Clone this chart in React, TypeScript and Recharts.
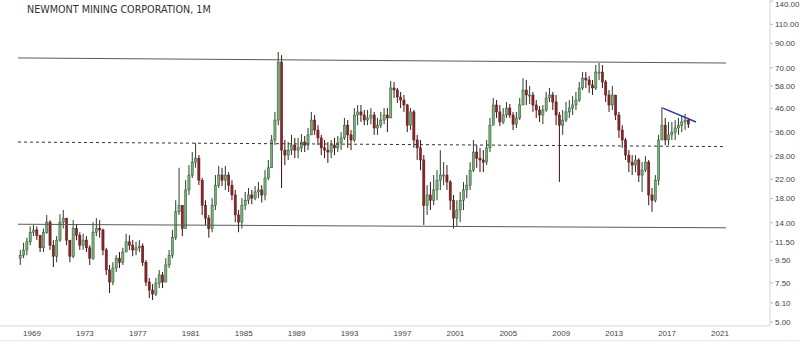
import { Bar, ComposedChart, ReferenceLine, XAxis, YAxis } from "recharts";

const START_YEAR = 1968;
const FIRST_OPEN = 9.7;

// quarterly candles, one row per year
const closes = [
  10.0, 10.56, 11.5, 12.7, 13.0, 12.3, 10.8, 12.7, 14.1, 11.1, 9.9, 11.7,
  14.1, 14.7, 11.7, 9.9, 13.2, 12.3, 11.1, 11.7, 10.8, 9.7, 12.7, 13.2,
  13.0, 10.56, 8.58, 7.57, 8.76, 9.7, 9.3, 10.34, 11.5, 11.1, 10.56, 10.8,
  11.0, 9.3, 7.57, 6.97, 6.68, 7.49, 8.15, 7.57, 9.04, 10.0, 12.0, 15.7,
  16.8, 13.2, 19.7, 23.0, 26.3, 27.4, 21.8, 16.8, 14.7, 13.2, 16.8, 20.7,
  23.0, 21.8, 23.0, 20.7, 18.7, 15.2, 14.1, 16.8, 17.7, 18.7, 18.1, 19.3,
  19.7, 18.7, 22.3, 24.8, 33.1, 40.7, 74.3, 29.8, 28.3, 29.8, 31.4, 29.8,
  30.5, 32.4, 31.4, 34.9, 40.7, 36.7, 33.8, 30.5, 29.8, 29.2, 31.4, 30.5,
  32.1, 33.8, 38.6, 34.9, 33.1, 42.9, 44.3, 42.9, 40.7, 41.6, 42.9, 37.5,
  38.6, 40.7, 42.9, 41.6, 56.8, 55.6, 51.7, 50.1, 47.6, 38.6, 44.3, 33.1,
  30.5, 26.9, 16.8, 18.7, 17.7, 19.7, 21.8, 23.0, 23.0, 21.4, 17.7, 14.7,
  16.0, 17.7, 19.7, 20.7, 24.2, 29.2, 27.4, 26.9, 26.3, 30.5, 38.6, 47.6,
  44.3, 39.9, 42.9, 46.1, 42.9, 39.0, 41.6, 47.6, 55.6, 52.8, 52.8, 47.6,
  45.2, 42.9, 45.2, 51.2, 52.8, 49.1, 42.9, 38.6, 40.7, 44.3, 46.1, 47.6,
  50.1, 56.8, 62.9, 61.7, 58.6, 56.8, 67.0, 67.0, 60.4, 52.8, 47.6, 52.8,
  42.9, 36.7, 33.1, 28.3, 26.3, 25.5, 26.9, 23.0, 24.2, 26.3, 18.7, 17.7,
  21.8, 33.1, 38.6, 33.1, 34.9, 35.9, 37.5, 38.6, 39.9, 40.7, 39.0,
];

const highs = [
  10.56, 11.4, 12.0, 13.5, 13.7, 13.5, 12.3, 13.2, 15.2, 14.4, 11.7, 12.2,
  15.3, 16.0, 14.7, 11.7, 14.4, 13.7, 12.7, 12.5, 12.2, 11.1, 14.1, 14.7,
  14.4, 13.2, 10.8, 9.04, 9.3, 10.0, 10.34, 10.8, 12.5, 12.3, 11.7, 11.5,
  11.7, 11.3, 9.52, 7.9, 7.41, 7.9, 8.58, 8.4, 9.7, 10.56, 13.0, 17.7,
  24.8, 16.3, 21.8, 25.5, 29.2, 32.1, 28.3, 22.3, 17.7, 15.2, 18.1, 23.0,
  25.3, 24.8, 25.3, 23.7, 21.8, 19.7, 16.0, 18.1, 19.3, 20.1, 19.7, 20.5,
  21.4, 20.7, 24.2, 26.9, 34.9, 44.3, 82.5, 79.9, 33.1, 32.4, 34.9, 33.8,
  33.8, 35.2, 34.5, 37.5, 44.3, 42.9, 38.6, 34.9, 33.1, 32.4, 33.1, 33.8,
  34.5, 35.9, 41.6, 40.7, 36.7, 46.1, 47.6, 47.6, 45.2, 45.2, 46.1, 44.3,
  41.6, 44.3, 46.1, 46.1, 61.1, 60.4, 56.8, 54.5, 52.8, 48.1, 46.1, 45.2,
  34.9, 33.1, 28.3, 20.7, 21.4, 23.0, 24.2, 29.8, 26.3, 25.5, 21.8, 18.7,
  17.7, 19.3, 21.4, 23.0, 26.3, 33.1, 31.4, 30.5, 29.8, 33.1, 41.6, 51.2,
  50.1, 47.6, 46.1, 49.1, 48.1, 44.3, 44.3, 51.2, 62.9, 61.7, 58.0, 54.5,
  50.1, 47.1, 47.6, 54.5, 56.8, 54.5, 52.8, 44.3, 45.2, 49.1, 50.1, 52.2,
  54.5, 60.4, 67.0, 67.0, 64.3, 61.7, 72.1, 73.6, 72.1, 61.7, 55.6, 58.0,
  52.8, 44.3, 38.6, 33.8, 29.8, 28.3, 28.3, 27.4, 26.3, 28.0, 26.9, 20.1,
  23.0, 34.9, 46.6, 41.6, 39.9, 39.9, 40.7, 41.6, 42.9, 43.4, 41.6,
];

const lows = [
  9.04, 9.7, 10.0, 11.1, 12.2, 11.7, 10.34, 10.34, 12.5, 10.56, 8.85, 9.3,
  11.5, 13.2, 11.1, 9.3, 9.7, 11.7, 10.56, 10.56, 10.34, 9.04, 9.52, 12.2,
  12.0, 10.0, 8.15, 6.75, 7.34, 8.4, 8.76, 9.04, 10.34, 10.56, 9.9, 10.0,
  10.34, 8.95, 7.26, 6.41, 6.28, 6.55, 7.11, 7.11, 7.57, 8.76, 9.7, 11.7,
  15.2, 12.2, 15.2, 18.7, 22.3, 24.8, 20.7, 15.2, 13.7, 12.0, 12.7, 16.0,
  20.1, 20.5, 19.7, 19.3, 17.7, 14.1, 12.7, 13.2, 16.0, 17.0, 17.0, 17.7,
  18.1, 17.3, 17.7, 21.8, 25.5, 31.4, 38.6, 20.1, 25.5, 26.9, 28.3, 27.4,
  27.4, 29.2, 29.2, 29.8, 34.9, 34.9, 31.4, 28.3, 27.4, 26.1, 27.4, 28.3,
  29.2, 29.8, 33.1, 30.5, 29.8, 32.4, 38.6, 39.9, 38.6, 38.6, 39.0, 34.9,
  34.9, 37.5, 39.0, 35.9, 41.6, 51.2, 48.6, 46.1, 44.3, 35.9, 36.7, 30.5,
  26.9, 24.2, 13.7, 15.2, 16.0, 16.8, 17.7, 19.7, 20.7, 19.7, 16.0, 13.2,
  13.5, 14.1, 16.0, 18.1, 19.7, 23.7, 24.8, 23.7, 23.7, 25.5, 29.2, 38.6,
  41.6, 38.2, 39.0, 41.6, 41.6, 36.7, 37.5, 40.7, 48.1, 47.6, 48.1, 44.3,
  41.6, 39.9, 39.0, 44.3, 49.1, 45.2, 38.6, 21.4, 34.9, 39.9, 41.6, 42.9,
  45.2, 49.1, 55.6, 56.8, 53.9, 52.8, 55.6, 61.7, 56.8, 49.1, 44.3, 45.2,
  40.7, 33.8, 30.5, 26.9, 23.7, 23.0, 23.7, 21.4, 19.3, 23.7, 16.8, 15.7,
  17.3, 20.7, 33.1, 31.4, 31.4, 33.1, 33.1, 34.9, 35.9, 36.7, 37.5,
];

const yearTicks = [1969, 1973, 1977, 1981, 1985, 1989, 1993, 1997, 2001, 2005, 2009, 2013, 2017, 2021];
const priceTicks = [5, 6.1, 7.5, 9.5, 11.5, 14, 18, 22, 28, 36, 46, 58, 70, 90, 110, 140];

// drawn lines: [start, end]
const resistance = [{ x: 1967.94, y: 77.6 }, { x: 2021.46, y: 73.6 }];
const midline = [{ x: 1967.94, y: 32.4 }, { x: 2021.46, y: 30.9 }];
const support = [{ x: 1967.94, y: 13.8 }, { x: 2021.46, y: 13.3 }];
const trendline = [{ x: 2016.69, y: 46.1 }, { x: 2019.19, y: 39.9 }];

const candles = closes.map((close, i) => {
  const open = i === 0 ? FIRST_OPEN : closes[i - 1];
  const high = Math.max(highs[i], open, close);
  const low = Math.min(lows[i], open, close);
  return { t: START_YEAR + i * 0.25 + 0.125, open, close, high, low, range: [low, high] };
});

function Candle(props: any) {
  const { x, y, width, height, payload } = props;
  if (!payload || height == null) return null;
  const { open, close, high, low } = payload;
  const cx = x + width / 2;
  const lh = Math.log(high);
  const ll = Math.log(low);
  const toY = (v: number) => (lh === ll ? y : y + (height * (lh - Math.log(v))) / (lh - ll));
  const up = close >= open;
  const top = toY(Math.max(open, close));
  const bottom = toY(Math.min(open, close));
  const bw = 2.2;
  return (
    <g>
      <line x1={cx} x2={cx} y1={y} y2={y + height} stroke={up ? "#26402a" : "#3f1010"} strokeWidth={1} />
      <rect
        x={cx - bw / 2}
        y={top}
        width={bw}
        height={Math.max(bottom - top, 1)}
        fill={up ? "#76b076" : "#8a2626"}
        stroke={up ? "#2f5532" : "#5a1515"}
        strokeWidth={0.5}
      />
    </g>
  );
}

export default function App() {
  return (
    <div style={{ position: "relative", width: 800, height: 344, background: "#fff", overflow: "hidden" }}>
      <style>{`html,body{margin:0;padding:0;overflow:hidden;background:#fff}`}</style>
      <ComposedChart
        width={800}
        height={344}
        data={candles}
        margin={{ top: 0, right: 0, bottom: 0, left: 0 }}
      >
        <XAxis
          dataKey="t"
          type="number"
          domain={[1966.581, 2024.782]}
          allowDataOverflow
          ticks={yearTicks}
          tickFormatter={(v) => String(v)}
          height={18}
          tickLine={false}
          tickSize={0}
          tickMargin={4}
          axisLine={{ stroke: "#d6d6d6" }}
          tick={{ fill: "#444", fontSize: 8, fontFamily: "Liberation Sans, Arial, sans-serif" }}
        />
        <YAxis
          orientation="right"
          type="number"
          scale="log"
          domain={[4.797, 141.6]}
          allowDataOverflow
          ticks={priceTicks}
          tickFormatter={(v) => Number(v).toFixed(2)}
          width={30}
          tickSize={3}
          tickMargin={2}
          tickLine={{ stroke: "#bbb" }}
          axisLine={{ stroke: "#d6d6d6" }}
          tick={{ fill: "#444", fontSize: 8, fontFamily: "Liberation Sans, Arial, sans-serif", textAnchor: "start" }}
        />
        <Bar dataKey="range" barSize={3} shape={Candle} isAnimationActive={false} />
        <ReferenceLine segment={resistance} stroke="#5a5a5a" strokeWidth={1} />
        <ReferenceLine segment={midline} stroke="#333" strokeWidth={1} strokeDasharray="3 3" />
        <ReferenceLine segment={support} stroke="#5a5a5a" strokeWidth={1} />
        <ReferenceLine segment={trendline} stroke="#2c36b0" strokeWidth={1.5} />
      </ComposedChart>
      <div
        style={{
          position: "absolute",
          left: 27,
          top: 4,
          fontFamily: "DejaVu Sans, sans-serif",
          fontSize: 9.6,
          color: "#333",
          whiteSpace: "nowrap",
        }}
      >
        NEWMONT MINING CORPORATION, 1M
      </div>
      <div style={{ position: "absolute", left: 0, top: 340, width: 800, height: 1, background: "#e6e6e6" }} />
    </div>
  );
}
